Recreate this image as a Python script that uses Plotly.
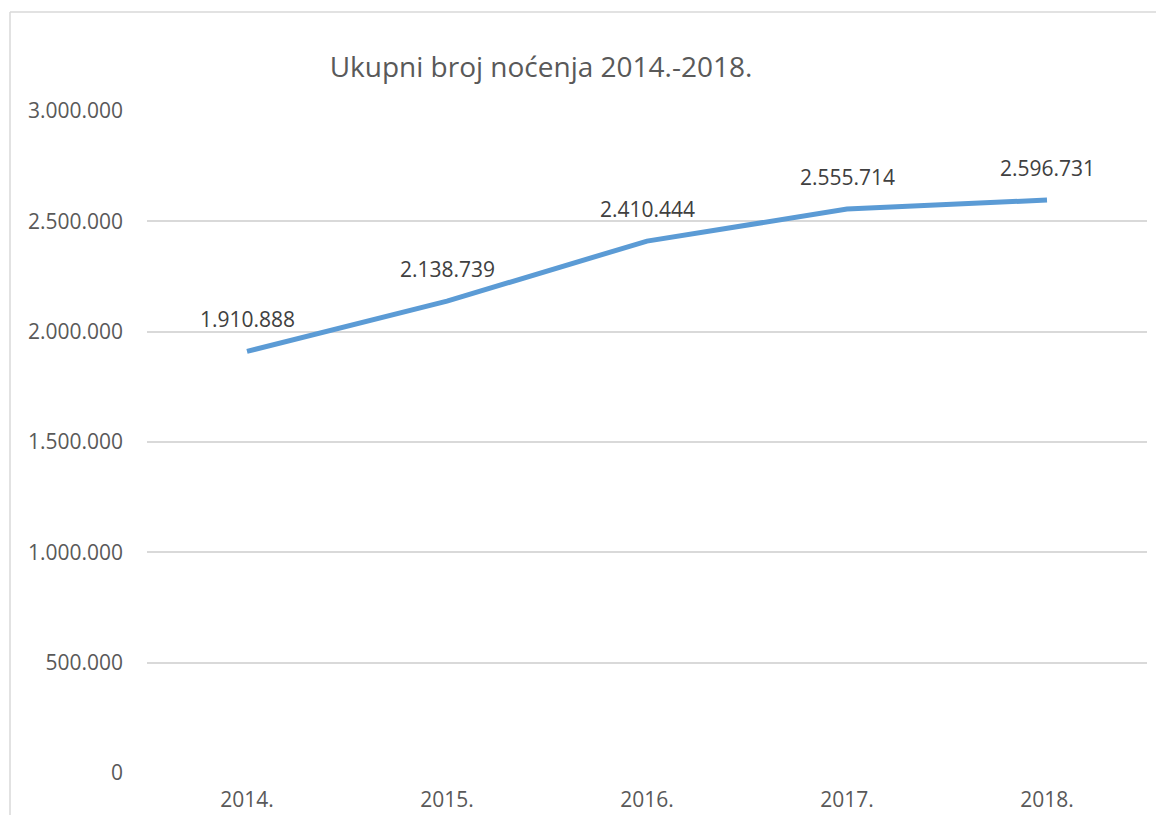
import plotly.graph_objects as go

years = ["2014.", "2015.", "2016.", "2017.", "2018."]
nights = [1910888, 2138739, 2410444, 2555714, 2596731]
label_texts = ["1.910.888", "2.138.739", "2.410.444", "2.555.714", "2.596.731"]
y_tick_vals = [0, 500000, 1000000, 1500000, 2000000, 2500000, 3000000]
y_tick_text = ["0", "500.000", "1.000.000", "1.500.000", "2.000.000", "2.500.000", "3.000.000"]
title_text = "Ukupni broj noćenja 2014.-2018."

FONT = "Open Sans"
W, H = 1148, 807
L, R, T, B = 139, 9, 103, 42
PW, PH = W - L - R, H - T - B

fig = go.Figure()
fig.add_trace(go.Scatter(
    x=years, y=nights, mode="lines",
    line=dict(color="#5B9BD5", width=5, shape="linear"),
    hoverinfo="skip", showlegend=False,
))

annotations = []
for i, (y, t) in enumerate(zip(nights, label_texts)):
    annotations.append(dict(
        x=i, y=y, xref="x", yref="y", text=t, showarrow=False,
        yshift=32, font=dict(family=FONT, size=21, color="#404040"),
    ))

fig.update_layout(
    width=W, height=H,
    margin=dict(l=L, r=R, t=T, b=B, pad=0, autoexpand=False),
    paper_bgcolor="white", plot_bgcolor="white",
    title=dict(text=title_text, x=533 / W, xref="container", xanchor="center",
               y=1 - 59 / H, yref="container", yanchor="middle",
               font=dict(family=FONT, size=28, color="#595959")),
    xaxis=dict(type="category", range=[-0.5, 4.5], showgrid=False, zeroline=False,
               showline=False, ticks="", ticklabelstandoff=12, automargin=False,
               tickfont=dict(family=FONT, size=21, color="#595959")),
    yaxis=dict(range=[0, 3000000], tickvals=y_tick_vals, ticktext=y_tick_text,
               showgrid=True, gridcolor="#D9D9D9", gridwidth=1.5, zeroline=False,
               showline=False, ticks="", ticklabelstandoff=23, automargin=False,
               tickfont=dict(family=FONT, size=21, color="#595959")),
    annotations=annotations,
    shapes=[
        dict(type="line", xref="paper", yref="paper",
             x0=(2 - L) / PW, x1=(2 - L) / PW,
             y0=(PH - 830) / PH, y1=(PH + T - 4) / PH,
             line=dict(color="#D9D9D9", width=1.5), layer="below"),
        dict(type="line", xref="paper", yref="paper",
             x0=(2 - L) / PW, x1=(1200 - L) / PW,
             y0=(PH + T - 4) / PH, y1=(PH + T - 4) / PH,
             line=dict(color="#D9D9D9", width=1.5), layer="below"),
    ],
)

fig.write_html("out.html")
